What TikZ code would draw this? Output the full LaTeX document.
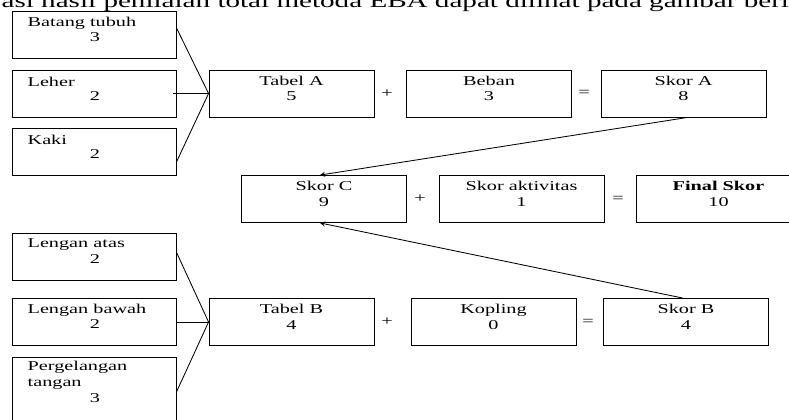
\documentclass[tikz,border=0pt]{standalone}
\usepackage{fontspec}
\setmainfont{Liberation Serif}
\usetikzlibrary{positioning}
\usetikzlibrary{calc,arrows}
\tikzset{
kotak/.style={draw,minimum width=4.125cm,minimum height=1.175cm,inner sep=0pt},
isi/.style={font=\fontsize{9.6}{10.9}\selectfont,inner sep=0pt,align=center,xscale=1.5},
opr/.style={font=\fontsize{9.6}{10.9}\selectfont,inner sep=0pt,xscale=1.5}
}

\begin{document}
\begin{tikzpicture}[x=0.025cm,y=-0.025cm,line width=0.6pt]
\useasboundingbox (0,0) rectangle (789,420);
\clip (0,0) rectangle (789,420);
\node[anchor=base west,inner sep=0pt,xscale=1.5,font=\fontsize{13.8}{16}\selectfont] (judul) at (1,8) {asi hasil penilaian total metoda EBA dapat dilihat pada gambar berikut};

\node[kotak,minimum width=4.1cm] (batang) at (94,35) {};
\node[isi,anchor=west] (batangT) at (27,23) {Batang tubuh};
\node[isi] (batangN) at (95,37.5) {3};
\node[kotak,minimum width=4.1cm] (leher) at (94,93.5) {};
\node[isi,anchor=west] (leherT) at (27,81.5) {Leher};
\node[isi] (leherN) at (95,96) {2};
\node[kotak,minimum width=4.1cm] (kaki) at (94,151.5) {};
\node[isi,anchor=west] (kakiT) at (27,139.5) {Kaki};
\node[isi] (kakiN) at (95,154) {2};

\node[kotak] (tabA) at (291.5,93.5) {};
\node[isi,below=0.15cm of tabA.north] (tabAT) {Tabel A\\5};
\node[opr] (plusA) at (387,93.5) {+};
\node[kotak] (beban) at (489,93.5) {};
\node[isi,below=0.15cm of beban.north] (bebanT) {Beban\\3};
\node[opr] (samaA) at (584,93.5) {=};
\node[kotak] (skorA) at (683.5,93.5) {};
\node[isi,below=0.15cm of skorA.north] (skorAT) {Skor A\\8};

\node[kotak] (skorC) at (324,199) {};
\node[isi,below=0.15cm of skorC.north] (skorCT) {Skor C\\9};
\node[opr] (plusC) at (420,199) {+};
\node[kotak] (aktiv) at (521.5,199) {};
\node[isi,below=0.15cm of aktiv.north] (aktivT) {Skor aktivitas\\1};
\node[opr] (samaC) at (618,199) {=};
\node[kotak] (final) at (718.5,199) {};
\node[isi,below=0.15cm of final.north] (finalT) {\bfseries Final Skor\\10};

\node[kotak,minimum width=4.1cm] (atas) at (94,257) {};
\node[isi,anchor=west] (atasT) at (27,245) {Lengan atas};
\node[isi] (atasN) at (95,259.5) {2};
\node[kotak,minimum width=4.1cm] (bawah) at (94,322) {};
\node[isi,anchor=west] (bawahT) at (27,310) {Lengan bawah};
\node[isi] (bawahN) at (95,324.5) {2};
\node[kotak,minimum width=4.1cm,minimum height=1.75cm] (pergel) at (94,392) {};
\node[isi,anchor=north west,align=left] (pergelT) at (27,361) {Pergelangan\\tangan};
\node[isi] (pergelN) at (95,398) {3};

\node[kotak] (tabB) at (291.5,322) {};
\node[isi,below=0.15cm of tabB.north] (tabBT) {Tabel B\\4};
\node[opr] (plusB) at (387,322) {+};
\node[kotak] (kopling) at (493.5,322) {};
\node[isi,below=0.15cm of kopling.north] (koplingT) {Kopling\\0};
\node[opr] (samaB) at (588,322) {=};
\node[kotak] (skorB) at (686,322) {};
\node[isi,below=0.15cm of skorB.north] (skorBT) {Skor B\\4};

\draw ($(batang.north east)!0.35!(batang.south east)$) -- (tabA.west);
\draw ([xshift=-0.08cm]leher.east) -- (tabA.west);
\draw ($(kaki.north east)!0.72!(kaki.south east)$) -- (tabA.west);
\draw ($(atas.north east)!0.4!(atas.south east)$) -- (tabB.west);
\draw (bawah.east) -- (tabB.west);
\draw (pergel.east) -- (tabB.west);
\draw[->,>=stealth] ([xshift=0.1cm]skorA.south) -- ([xshift=-0.1cm]skorC.north);
\draw[->,>=stealth] ([xshift=-0.08cm]skorB.north) -- ([xshift=-0.1cm]skorC.south);
\end{tikzpicture}
\end{document}
